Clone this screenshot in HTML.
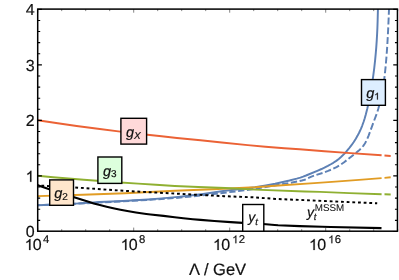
<!DOCTYPE html>
<html><head><meta charset="utf-8"><title>RG running</title>
<style>html,body{margin:0;padding:0;background:#fff}svg{display:block;will-change:transform}</style></head>
<body>
<svg width="399" height="280" viewBox="0 0 399 280" text-rendering="geometricPrecision">
<defs><clipPath id="c"><rect x="37.70" y="9.00" width="359.75" height="221.90"/></clipPath></defs>
<rect width="399" height="280" fill="#fff"/>
<g clip-path="url(#c)" fill="none" stroke-width="1.95" stroke-linejoin="round">
<path d="M37.70,205.25 56.56,204.57 75.87,203.65 81.55,203.29 93.82,202.40 99.28,202.05 106.09,201.71 122.68,200.99 134.95,200.30 148.36,199.41 161.76,198.37 178.12,196.90 184.03,196.29 190.16,195.59 203.11,193.92 224.93,190.81 243.11,188.69 254.92,187.22 265.83,185.47 275.14,183.77 284.00,181.81 289.46,180.53 296.73,178.63 300.36,177.59 303.09,176.66 306.04,175.52 317.86,170.58 321.50,169.01 324.45,167.62 327.86,165.89 330.81,164.27 333.31,162.79 336.26,160.85 338.76,158.96 341.26,156.80 343.99,154.16 346.26,151.72 348.76,148.74 351.49,145.20 353.76,141.96 355.81,138.75 357.62,135.59 359.21,132.52 360.80,129.09 362.17,125.78 363.53,122.02 364.67,118.44 365.80,114.43 367.39,108.15 368.76,102.17 369.89,96.61 371.03,90.39 372.17,83.36 373.30,75.36 374.21,68.27 375.12,60.14 375.80,52.96 376.26,47.40 376.71,40.87 377.16,33.05 377.39,27.98 377.62,21.16 378.30,-5.00" stroke="#5E81B5"/>
<path d="M389.00,9.00 388.79,14.74 M388.68,17.56 388.38,24.51 M388.26,27.33 387.91,34.27 M387.76,37.10 387.36,44.03 M387.18,46.86 386.70,53.79 M386.48,56.61 385.91,63.53 M385.65,66.34 384.94,73.25 M384.62,76.06 383.71,82.93 M383.29,85.73 382.12,92.56 M381.58,95.32 380.80,99.03 380.09,102.08 M379.41,104.80 378.45,108.33 377.49,111.42 M376.58,114.07 374.17,120.50 M373.18,123.11 370.83,129.56 M369.89,132.19 368.61,135.57 367.37,138.56 M366.20,141.08 365.33,142.73 364.39,144.28 363.46,145.61 362.56,146.74 M360.75,148.75 358.53,150.86 355.82,153.10 M353.72,154.72 348.55,158.72 M346.47,160.39 343.77,162.49 341.25,164.29 M339.03,165.72 336.50,167.13 333.32,168.69 M330.93,169.75 328.07,170.92 324.99,172.10 M322.53,172.96 316.46,174.85 M313.99,175.67 311.43,176.64 308.12,178.23 M305.75,179.31 304.63,179.73 303.69,180.02 301.82,180.51 299.63,181.02 M297.10,181.53 290.87,182.67 M288.32,183.10 282.08,184.13 M279.53,184.57 273.30,185.69 M270.76,186.13 264.52,187.21 M261.97,187.64 255.73,188.71 M253.18,189.09 246.91,189.96 M244.36,190.30 238.08,191.11 M235.53,191.42 229.24,192.14 M226.68,192.42 220.40,193.18 M217.85,193.51 211.57,194.28 M209.01,194.59 202.73,195.32 M200.17,195.61 193.88,196.28 M191.32,196.54 185.02,197.14 M182.46,197.38 176.16,197.91 M173.59,198.11 167.29,198.58 M164.72,198.77 158.42,199.19 M155.85,199.36 149.54,199.75 M146.97,199.91 140.66,200.28 M138.09,200.43 131.78,200.79 M129.21,200.93 122.90,201.29 M120.33,201.44 114.02,201.79 M111.45,201.93 105.14,202.27 M102.57,202.40 96.26,202.73 M93.69,202.86 87.38,203.17 M84.81,203.29 78.50,203.59 M75.93,203.70 69.61,203.98 M67.04,204.09 60.73,204.36 M58.16,204.46 51.85,204.71 M49.27,204.81 42.96,205.05 M40.39,205.15 37.70,205.25" stroke="#5E81B5"/>
<path d="M37.70,196.15 82.59,194.75 125.11,193.27 149.92,192.06 174.73,190.78 212.53,189.24 255.05,187.32 275.14,185.66 314.12,183.11 335.38,181.65 359.01,179.90 381.60,178.10" stroke="#E19C24"/>
<path d="M37.70,175.78 53.06,177.18 68.41,178.50 83.77,179.74 100.31,181.00 116.85,182.18 138.11,183.63 155.83,184.77 174.73,185.92 198.35,186.97 225.52,188.08 255.05,189.64 304.67,191.49 320.02,191.86 349.56,193.10 381.60,194.16" stroke="#8FB032"/>
<path d="M37.70,120.18 57.76,123.25 76.64,125.96 97.88,128.81 120.30,131.63 140.35,133.98 161.59,136.33 176.93,137.94 200.53,140.31 221.77,142.53 247.73,145.13 265.43,146.83 284.31,148.29 299.65,149.25 324.42,151.20 346.84,152.88 381.60,155.34" stroke="#EB6235"/>
<path d="M384.50,177.86 390.70,177.34" stroke="#E19C24"/>
<path d="M384.50,194.25 390.70,194.44" stroke="#8FB032"/>
<path d="M384.50,155.53 390.70,155.94" stroke="#EB6235"/>
<path d="M37.70,185.30 51.49,190.05 65.27,194.55 88.54,201.86 93.71,203.39 98.88,204.81 106.63,206.67 114.39,208.43 120.42,209.70 127.31,211.05 131.62,211.84 135.93,212.55 141.10,213.30 146.27,213.97 150.58,214.48 163.50,215.88 174.70,217.22 183.32,218.18 192.80,219.17 200.55,219.90 214.34,221.00 230.71,222.15 238.47,222.65 251.39,223.35 262.59,224.02 266.04,224.26 274.65,225.00 278.10,225.25 299.64,226.12 322.05,226.82 330.66,227.04 381.50,228.10" stroke="#000" stroke-width="2.1"/>
<path d="M37.70,185.44 74.49,187.44 125.09,190.89 195.23,194.67 223.97,196.17 255.02,197.40 275.72,198.94 304.46,200.13 347.01,202.02 377.20,203.26" stroke="#000" stroke-dasharray="2.83 2.833" stroke-dashoffset="2.02"/>
</g>
<path d="M37.70,231.45h4.2 M397.45,231.45h-4.2 M37.70,220.34h2.5 M397.45,220.34h-2.5 M37.70,209.24h2.5 M397.45,209.24h-2.5 M37.70,198.13h2.5 M397.45,198.13h-2.5 M37.70,187.03h2.5 M397.45,187.03h-2.5 M37.70,175.92h4.2 M397.45,175.92h-4.2 M37.70,164.82h2.5 M397.45,164.82h-2.5 M37.70,153.71h2.5 M397.45,153.71h-2.5 M37.70,142.61h2.5 M397.45,142.61h-2.5 M37.70,131.50h2.5 M397.45,131.50h-2.5 M37.70,120.40h4.2 M397.45,120.40h-4.2 M37.70,109.29h2.5 M397.45,109.29h-2.5 M37.70,98.19h2.5 M397.45,98.19h-2.5 M37.70,87.08h2.5 M397.45,87.08h-2.5 M37.70,75.98h2.5 M397.45,75.98h-2.5 M37.70,64.88h4.2 M397.45,64.88h-4.2 M37.70,53.77h2.5 M397.45,53.77h-2.5 M37.70,42.66h2.5 M397.45,42.66h-2.5 M37.70,31.56h2.5 M397.45,31.56h-2.5 M37.70,20.45h2.5 M397.45,20.45h-2.5 M37.70,9.35h4.2 M397.45,9.35h-4.2" stroke="#000" stroke-width="1.1" fill="none"/>
<path d="M37.70,231.20v-3.6 M37.70,9.10v3.6 M61.70,231.20v-2.0 M61.70,9.10v2.0 M85.70,231.20v-2.0 M85.70,9.10v2.0 M109.70,231.20v-2.0 M109.70,9.10v2.0 M133.70,231.20v-3.6 M133.70,9.10v3.6 M157.70,231.20v-2.0 M157.70,9.10v2.0 M181.70,231.20v-2.0 M181.70,9.10v2.0 M205.70,231.20v-2.0 M205.70,9.10v2.0 M229.70,231.20v-3.6 M229.70,9.10v3.6 M253.70,231.20v-2.0 M253.70,9.10v2.0 M277.70,231.20v-2.0 M277.70,9.10v2.0 M301.70,231.20v-2.0 M301.70,9.10v2.0 M325.70,231.20v-3.6 M325.70,9.10v3.6 M349.70,231.20v-2.0 M349.70,9.10v2.0 M373.70,231.20v-2.0 M373.70,9.10v2.0 M397.70,231.20v-2.0 M397.70,9.10v2.0" stroke="#333" stroke-width="0.6" fill="none"/>
<rect x="37.70" y="9.10" width="359.75" height="222.10" fill="none" stroke="#000" stroke-width="1.5"/>
<rect x="120.90" y="118.30" width="25.70" height="25.80" fill="#FFD9D9" stroke="#000" stroke-width="1.4"/>
<text x="126.00" y="137.00" font-family="Liberation Sans, sans-serif" font-size="14.5" text-anchor="start" font-style="italic" fill="#111" stroke="#111" stroke-width="0.2">g</text>
<text x="134.06" y="138.50" font-family="Liberation Sans, sans-serif" font-size="10" text-anchor="start" font-style="italic" fill="#111" stroke="#111" stroke-width="0.2">X</text>
<rect x="97.90" y="157.00" width="23.90" height="26.40" fill="#DDFFDD" stroke="#000" stroke-width="1.4"/>
<text x="103.00" y="175.70" font-family="Liberation Sans, sans-serif" font-size="14.5" text-anchor="start" font-style="italic" fill="#111" stroke="#111" stroke-width="0.2">g</text>
<text x="111.06" y="176.90" font-family="Liberation Sans, sans-serif" font-size="10" text-anchor="start" fill="#111" stroke="#111" stroke-width="0.2">3</text>
<rect x="49.70" y="179.90" width="23.80" height="25.40" fill="#FFE6CC" stroke="#000" stroke-width="1.4"/>
<text x="54.20" y="198.10" font-family="Liberation Sans, sans-serif" font-size="14.5" text-anchor="start" font-style="italic" fill="#111" stroke="#111" stroke-width="0.2">g</text>
<text x="62.26" y="199.80" font-family="Liberation Sans, sans-serif" font-size="10" text-anchor="start" fill="#111" stroke="#111" stroke-width="0.2">2</text>
<rect x="361.50" y="79.60" width="23.90" height="25.70" fill="#DDEEFF" stroke="#000" stroke-width="1.4"/>
<text x="366.20" y="98.00" font-family="Liberation Sans, sans-serif" font-size="14.5" text-anchor="start" font-style="italic" fill="#111" stroke="#111" stroke-width="0.2">g</text>
<path d="M759 0H579V1147Q514 1085 408.5 1023T219 930V1104Q369 1174.5 481 1275T640 1470H759Z" transform="translate(374.26,99.60) scale(0.00469,-0.00469)" fill="#111" stroke="#111" stroke-width="42.6"/>
<rect x="242.70" y="204.50" width="21.10" height="26.70" fill="#FFFFFF" stroke="#000" stroke-width="1.4"/>
<text x="248.30" y="222.10" font-family="Liberation Sans, sans-serif" font-size="14" text-anchor="start" font-style="italic" fill="#111" stroke="#111" stroke-width="0.2">y</text>
<text x="255.30" y="224.50" font-family="Liberation Sans, sans-serif" font-size="9.5" text-anchor="start" font-style="italic" fill="#111" stroke="#111" stroke-width="0.2">t</text>
<text x="307.00" y="216.90" font-family="Liberation Sans, sans-serif" font-size="14" text-anchor="start" font-style="italic" fill="#111" stroke="#111" stroke-width="0.2">y</text>
<text x="313.80" y="219.50" font-family="Liberation Sans, sans-serif" font-size="9.5" text-anchor="start" font-style="italic" fill="#111" stroke="#111" stroke-width="0.2">t</text>
<text x="314.80" y="211.10" font-family="Liberation Sans, sans-serif" font-size="9.8" text-anchor="start" fill="#111" stroke="#111" stroke-width="0.05">MSSM</text>
<text x="34.60" y="237.30" font-family="Liberation Sans, sans-serif" font-size="16" text-anchor="end" fill="#111" stroke="#111" stroke-width="0.2">0</text>
<path d="M759 0H579V1147Q514 1085 408.5 1023T219 930V1104Q369 1174.5 481 1275T640 1470H759Z" transform="translate(25.70,181.83) scale(0.00751,-0.00751)" fill="#111" stroke="#111" stroke-width="26.6"/>
<text x="34.60" y="126.35" font-family="Liberation Sans, sans-serif" font-size="16" text-anchor="end" fill="#111" stroke="#111" stroke-width="0.2">2</text>
<text x="34.60" y="70.88" font-family="Liberation Sans, sans-serif" font-size="16" text-anchor="end" fill="#111" stroke="#111" stroke-width="0.2">3</text>
<text x="34.60" y="15.40" font-family="Liberation Sans, sans-serif" font-size="16" text-anchor="end" fill="#111" stroke="#111" stroke-width="0.2">4</text>
<path d="M759 0H579V1147Q514 1085 408.5 1023T219 930V1104Q369 1174.5 481 1275T640 1470H759Z" transform="translate(24.75,250.00) scale(0.00751,-0.00751)" fill="#111" stroke="#111" stroke-width="26.6"/>
<text x="32.85" y="250.00" font-family="Liberation Sans, sans-serif" font-size="16" text-anchor="start" fill="#111" stroke="#111" stroke-width="0.2">0</text>
<text x="46.10" y="243.20" font-family="Liberation Sans, sans-serif" font-size="11.3" text-anchor="middle" fill="#111" stroke="#111" stroke-width="0.2">4</text>
<path d="M759 0H579V1147Q514 1085 408.5 1023T219 930V1104Q369 1174.5 481 1275T640 1470H759Z" transform="translate(120.75,250.00) scale(0.00751,-0.00751)" fill="#111" stroke="#111" stroke-width="26.6"/>
<text x="128.85" y="250.00" font-family="Liberation Sans, sans-serif" font-size="16" text-anchor="start" fill="#111" stroke="#111" stroke-width="0.2">0</text>
<text x="142.10" y="243.20" font-family="Liberation Sans, sans-serif" font-size="11.3" text-anchor="middle" fill="#111" stroke="#111" stroke-width="0.2">8</text>
<path d="M759 0H579V1147Q514 1085 408.5 1023T219 930V1104Q369 1174.5 481 1275T640 1470H759Z" transform="translate(213.05,250.00) scale(0.00751,-0.00751)" fill="#111" stroke="#111" stroke-width="26.6"/>
<text x="221.15" y="250.00" font-family="Liberation Sans, sans-serif" font-size="16" text-anchor="start" fill="#111" stroke="#111" stroke-width="0.2">0</text>
<path d="M759 0H579V1147Q514 1085 408.5 1023T219 930V1104Q369 1174.5 481 1275T640 1470H759Z" transform="translate(232.32,243.20) scale(0.00530,-0.00530)" fill="#111" stroke="#111" stroke-width="37.7"/>
<text x="238.70" y="243.20" font-family="Liberation Sans, sans-serif" font-size="11.3" text-anchor="start" fill="#111" stroke="#111" stroke-width="0.2">2</text>
<path d="M759 0H579V1147Q514 1085 408.5 1023T219 930V1104Q369 1174.5 481 1275T640 1470H759Z" transform="translate(309.05,250.00) scale(0.00751,-0.00751)" fill="#111" stroke="#111" stroke-width="26.6"/>
<text x="317.15" y="250.00" font-family="Liberation Sans, sans-serif" font-size="16" text-anchor="start" fill="#111" stroke="#111" stroke-width="0.2">0</text>
<path d="M759 0H579V1147Q514 1085 408.5 1023T219 930V1104Q369 1174.5 481 1275T640 1470H759Z" transform="translate(328.32,243.20) scale(0.00530,-0.00530)" fill="#111" stroke="#111" stroke-width="37.7"/>
<text x="334.70" y="243.20" font-family="Liberation Sans, sans-serif" font-size="11.3" text-anchor="start" fill="#111" stroke="#111" stroke-width="0.2">6</text>
<text x="188.90" y="275.30" font-family="Liberation Sans, sans-serif" font-size="16.5" text-anchor="start" fill="#111" stroke="#111" stroke-width="0.2">Λ</text>
<text x="203.90" y="275.30" font-family="Liberation Sans, sans-serif" font-size="16.5" text-anchor="start" fill="#111" stroke="#111" stroke-width="0.2">/ GeV</text>
</svg>
</body></html>
